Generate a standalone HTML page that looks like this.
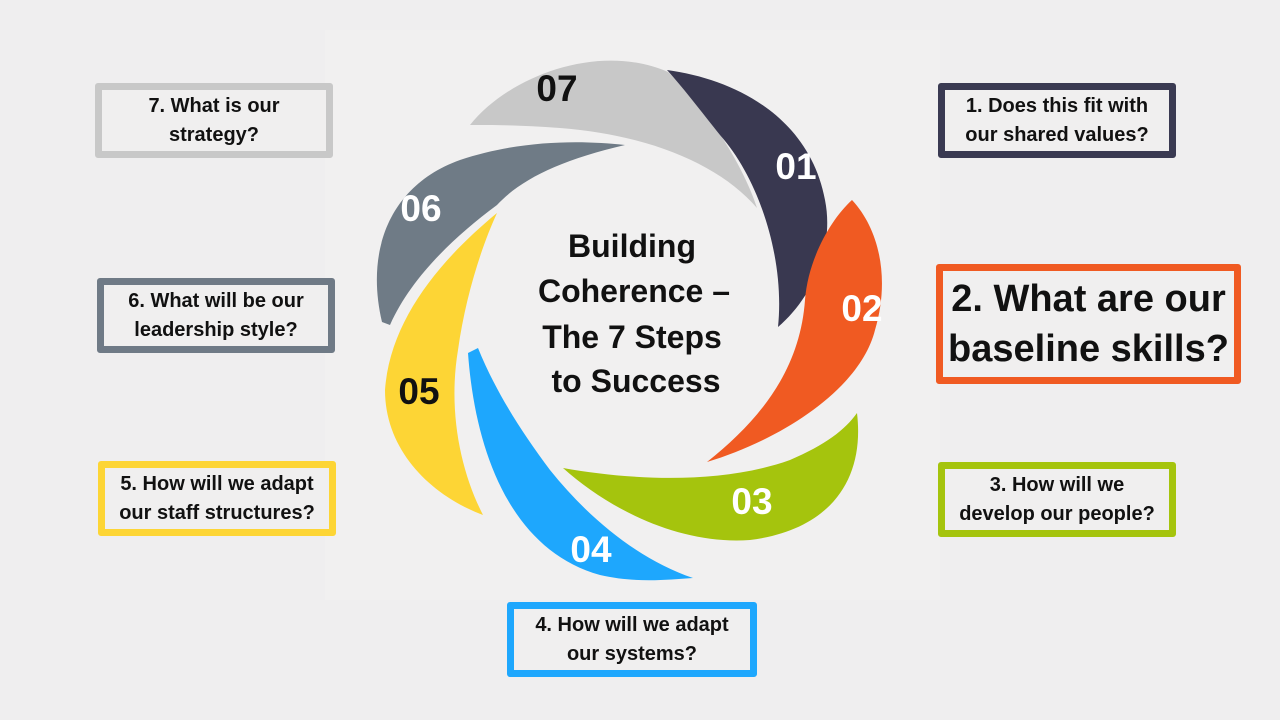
<!DOCTYPE html>
<html><head><meta charset="utf-8"><style>
body{margin:0;width:1280px;height:720px;background:#efeeef;position:relative;overflow:hidden;font-family:"Liberation Sans",sans-serif;}
.b{position:absolute;box-sizing:border-box;border:7px solid;border-radius:3px;background:#f0efef;display:flex;align-items:center;justify-content:center;text-align:center;font-weight:bold;font-size:20px;line-height:29px;color:#111;white-space:nowrap;}
</style></head><body>
<div style="position:absolute;left:325px;top:30px;width:615px;height:570px;background:#f1f0f0"></div>
<svg width="1280" height="720" style="position:absolute;left:0;top:0">
<path d="M470,125 C510,75 600,42 668,72 C710,110 745,170 757,208 C720,165 650,135 560,128 C520,125 490,125 470,125 Z" fill="#c8c8c8"/>
<path d="M667,70 C740,80 810,120 825,200 C835,250 810,300 778,327 C785,260 760,180 720,135 C700,110 685,90 667,70 Z" fill="#393850"/>
<path d="M852,200 C880,230 890,280 875,330 C860,390 780,440 707,462 C760,420 800,370 805,300 C808,260 830,220 852,200 Z" fill="#f05a22"/>
<path d="M857,413 C865,480 830,530 750,540 C680,545 610,510 563,468 C630,480 720,485 790,460 C825,445 845,430 857,413 Z" fill="#a5c40d"/>
<path d="M468,353 C475,450 510,550 600,575 C635,583 665,580 693,578 C640,560 590,520 550,470 C520,430 495,390 478,348 Z" fill="#1ea7fd"/>
<path d="M497,213 C440,260 390,320 385,390 C385,450 430,495 483,515 C460,470 448,410 458,350 C465,300 480,250 497,213 Z" fill="#fdd535"/>
<path d="M382,322 C365,250 390,185 460,160 C520,140 580,140 625,145 C560,160 520,180 497,205 C450,240 410,280 390,325 Z" fill="#6f7b86"/>
<g font-family="Liberation Sans" font-weight="bold" font-size="37" text-anchor="middle">
<text x="557" y="101" fill="#111">07</text>
<text x="796" y="179" fill="#fff">01</text>
<text x="862" y="321" fill="#fff">02</text>
<text x="752" y="514" fill="#fff">03</text>
<text x="591" y="562" fill="#fff">04</text>
<text x="419" y="404" fill="#111">05</text>
<text x="421" y="221" fill="#fff">06</text>
</g>
<g font-family="Liberation Sans" font-weight="bold" font-size="32" text-anchor="middle" fill="#111">
<text x="632" y="257">Building</text>
<text x="634" y="302">Coherence –</text>
<text x="632" y="348">The 7 Steps</text>
<text x="636" y="392">to Success</text>
</g>
</svg>
<div class="b" style="left:95px;top:83px;width:238px;height:75px;border-color:#c8c8c8">7. What is our<br>strategy?</div>
<div class="b" style="left:938px;top:83px;width:238px;height:75px;border-color:#3a3a52">1. Does this fit with<br>our shared values?</div>
<div class="b" style="left:936px;top:264px;width:305px;height:120px;border-color:#f05a22;font-size:38px;line-height:50px">2. What are our<br>baseline skills?</div>
<div class="b" style="left:97px;top:278px;width:238px;height:75px;border-color:#6f7a86">6. What will be our<br>leadership style?</div>
<div class="b" style="left:98px;top:461px;width:238px;height:75px;border-color:#fdd535">5. How will we adapt<br>our staff structures?</div>
<div class="b" style="left:938px;top:462px;width:238px;height:75px;border-color:#a5c40d">3. How will we<br>develop our people?</div>
<div class="b" style="left:507px;top:602px;width:250px;height:75px;border-color:#1ea7fd">4. How will we adapt<br>our systems?</div>
</body></html>
